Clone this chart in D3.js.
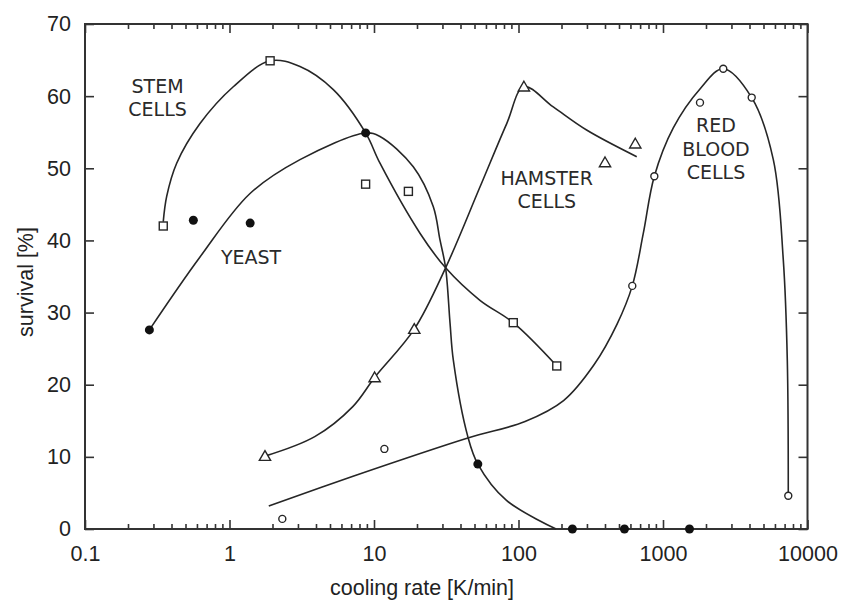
<!DOCTYPE html>
<html>
<head>
<meta charset="utf-8">
<script src="https://cdn.jsdelivr.net/npm/d3@7"></script>
<style>
  html, body { margin: 0; padding: 0; background: #fff; }
  svg { display: block; }
</style>
</head>
<body>
<svg id="chart" width="842" height="601"></svg>
<script>
// ---------- data ----------
const xTickValues = [0.1, 1, 10, 100, 1000, 10000];
const xTickLabels = ["0.1", "1", "10", "100", "1000", "10000"];
const yTickValues = [0, 10, 20, 30, 40, 50, 60, 70];

// measured points [cooling rate K/min, survival %]
const stemPoints    = [[0.348, 42.0], [1.91, 64.9], [8.75, 47.8], [17.3, 46.8], [92, 28.6], [184, 22.6]];
const yeastPoints   = [[0.279, 27.6], [0.562, 42.8], [1.39, 42.4], [8.75, 54.9], [52.3, 9.0], [236, 0], [541, 0], [1525, 0]];
const hamsterPoints = [[1.76, 10.1], [10.1, 21.0], [19.0, 27.7], [109, 61.3], [397, 50.8], [643, 53.4]];
const rbcPoints     = [[2.32, 1.4], [11.8, 11.1], [613, 33.7], [871, 48.9], [1803, 59.1], [2612, 63.8], [4110, 59.8], [7362, 4.6]];

// hand-drawn trend curves
const stemCurve = [[0.348, 42.6], [0.3675, 46.1], [0.431, 50.7], [0.625, 56.2], [1.062, 61.3], [1.91, 64.9],
                   [3.075, 64.1], [5.23, 60.9], [8.75, 54.9], [11.0, 50.7], [20.8, 41.0], [31.3, 36.2],
                   [54.1, 31.7], [92, 28.6], [184, 22.6]];
const yeastCurve = [[0.279, 27.6], [0.625, 37.7], [1.387, 46.5], [3.075, 51.2], [8.75, 54.9], [11.0, 54.4],
                    [18.7, 50.2], [25.7, 44.7], [28.6, 40.1], [31.3, 36.2], [33.6, 28.5], [35.4, 23.4],
                    [44.6, 12.8], [52.3, 9.0], [82.2, 4.0], [182, 0]];
const hamsterCurve = [[1.76, 10.1], [3.89, 12.8], [7.16, 17.0], [10.1, 21.0], [19.0, 27.7],
                      [31.3, 36.2], [54.1, 47.4], [82.9, 56.2], [109, 61.3], [174, 58.5], [296, 55.3], [658, 51.6]];
const rbcCurve = [[1.87, 3.2], [7.16, 7.3], [44.6, 12.6], [111, 14.9], [205, 17.8], [334, 22.8], [481, 28.4],
                  [613, 33.7], [731, 41.0], [871, 48.9], [1178, 55.6], [1803, 61.0], [2612, 63.8], [4110, 59.8],
                  [5800, 51.2], [6800, 37.3], [7248, 23.4], [7362, 4.6]];

const annotations = [
  { lines: ["STEM", "CELLS"], x: 0.318, y: 60.5 },
  { lines: ["YEAST"], x: 1.409, y: 36.7 },
  { lines: ["HAMSTER", "CELLS"], x: 157, y: 47.7 },
  { lines: ["RED", "BLOOD", "CELLS"], x: 2327, y: 55.0 }
];

// ---------- layout ----------
const svg = d3.select("#chart");
const mLeft = 85, mRight = 807.5, mTop = 24, mBottom = 529;
const x = d3.scaleLog().domain([0.1, 10000]).range([mLeft, mRight]);
const y = d3.scaleLinear().domain([0, 70]).range([mBottom, mTop]);
const ink = "#262626";

// minor tick values for log axis
const minorX = [];
[0.1, 1, 10, 100, 1000].forEach(d => { for (let k = 2; k <= 9; k++) minorX.push(d * k); });

const axisG = svg.append("g");
const bottomAxis = d3.axisBottom(x).tickValues(xTickValues).tickFormat((d, i) => xTickLabels[i]).tickSizeInner(-9).tickSizeOuter(0).tickPadding(17);
const gB = axisG.append("g").attr("transform", `translate(0,${mBottom})`).call(bottomAxis);
gB.selectAll("text").attr("font-family", "Liberation Sans, Arial, sans-serif").attr("font-size", 21.5).attr("fill", "#222");
gB.append("g").selectAll("line").data(minorX).join("line")
  .attr("x1", d => x(d)).attr("x2", d => x(d)).attr("y1", 0).attr("y2", -5);

const topAxis = d3.axisTop(x).tickValues(xTickValues).tickFormat("").tickSizeInner(-9).tickSizeOuter(0);
const gT = axisG.append("g").attr("transform", `translate(0,${mTop})`).call(topAxis);
gT.append("g").selectAll("line").data(minorX).join("line")
  .attr("x1", d => x(d)).attr("x2", d => x(d)).attr("y1", 0).attr("y2", 5);

const leftAxis = d3.axisLeft(y).tickValues(yTickValues).tickSizeInner(-9).tickSizeOuter(0).tickPadding(14);
const gL = axisG.append("g").attr("transform", `translate(${mLeft},0)`).call(leftAxis);
gL.selectAll("text").attr("font-family", "Liberation Sans, Arial, sans-serif").attr("font-size", 21.5).attr("fill", "#222");

const rightAxis = d3.axisRight(y).tickValues(yTickValues).tickFormat("").tickSizeInner(-9).tickSizeOuter(0);
axisG.append("g").attr("transform", `translate(${mRight},0)`).call(rightAxis);

axisG.selectAll("line").attr("stroke", "#333").attr("stroke-width", 1.6);
axisG.selectAll(".domain").remove();
svg.append("rect").attr("x", mLeft).attr("y", mTop).attr("width", mRight - mLeft).attr("height", mBottom - mTop)
  .attr("fill", "none").attr("stroke", "#333").attr("stroke-width", 2);

// axis titles
svg.append("text").attr("x", 422).attr("y", 595).attr("text-anchor", "middle")
  .attr("font-family", "Liberation Sans, Arial, sans-serif").attr("font-size", 21.5).attr("fill", "#222")
  .text("cooling rate [K/min]");
svg.append("text").attr("transform", "translate(33,282) rotate(-90)").attr("text-anchor", "middle")
  .attr("font-family", "Liberation Sans, Arial, sans-serif").attr("font-size", 21.5).attr("fill", "#222")
  .text("survival [%]");

// curves
const line = d3.line().x(d => x(d[0])).y(d => y(d[1])).curve(d3.curveCatmullRom.alpha(0.5));
const curveG = svg.append("g").attr("fill", "none").attr("stroke", ink).attr("stroke-width", 1.6);
[stemCurve, yeastCurve, hamsterCurve, rbcCurve].forEach(c => curveG.append("path").attr("d", line(c)));

// markers
const mk = svg.append("g");
mk.selectAll(".sq").data(stemPoints).join("rect")
  .attr("x", d => x(d[0]) - 4).attr("y", d => y(d[1]) - 4).attr("width", 8).attr("height", 8)
  .attr("fill", "#fff").attr("stroke", ink).attr("stroke-width", 1.4);
const tri = d3.symbol().type(d3.symbolTriangle).size(55);
mk.selectAll(".tri").data(hamsterPoints).join("path")
  .attr("d", tri).attr("transform", d => `translate(${x(d[0])},${y(d[1]) + 1})`)
  .attr("fill", "#fff").attr("stroke", ink).attr("stroke-width", 1.4);
mk.selectAll(".ci").data(rbcPoints).join("circle")
  .attr("cx", d => x(d[0])).attr("cy", d => y(d[1])).attr("r", 3.5)
  .attr("fill", "#fff").attr("stroke", ink).attr("stroke-width", 1.4);
mk.selectAll(".dot").data(yeastPoints).join("circle")
  .attr("cx", d => x(d[0])).attr("cy", d => y(d[1])).attr("r", 4.5)
  .attr("fill", "#111");

// annotations
const ann = svg.append("g").attr("font-family", "DejaVu Sans, Verdana, sans-serif").attr("font-size", 19)
  .attr("fill", "#2a2a2a").attr("text-anchor", "middle");
annotations.forEach(a => {
  a.lines.forEach((t, i) => {
    ann.append("text").attr("x", x(a.x)).attr("y", y(a.y) + i * 23.5).text(t);
  });
});
</script>
</body>
</html>
